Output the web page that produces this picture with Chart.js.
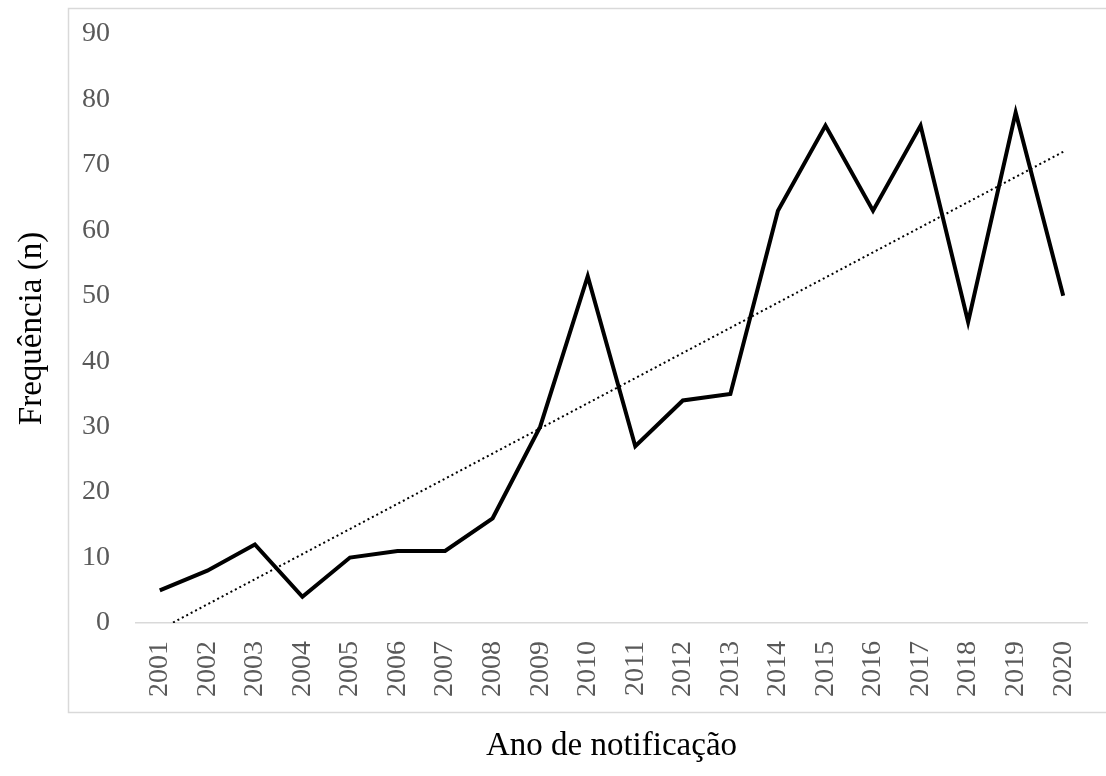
<!DOCTYPE html>
<html lang="pt">
<head>
<meta charset="utf-8">
<title>Frequência por ano de notificação</title>
<script src="https://cdn.jsdelivr.net/npm/chart.js@4/dist/chart.umd.min.js"></script>
<style>
  html, body { margin: 0; padding: 0; background: #fff; }
  #wrap { position: relative; width: 1106px; height: 776px; }
</style>
</head>
<body>
<div id="wrap"><canvas id="chart"></canvas></div>
<script>
const years = ["2001", "2002", "2003", "2004", "2005", "2006", "2007", "2008", "2009", "2010",
  "2011", "2012", "2013", "2014", "2015", "2016", "2017", "2018", "2019", "2020"];
const frequency = [5, 8, 12, 4, 10, 11, 11, 16, 30, 53, 27, 34, 35, 63, 76, 63, 76, 46, 78, 50];
// linear trend line, endpoints
const trendYears = ["2001", "2020"];
const trendValues = [-1, 72];
const yTicks = { min: 0, max: 90, step: 10 };

const serif = "'Liberation Serif', 'DejaVu Serif', serif";
const tickGray = "#595959";
const frameGray = "#d9d9d9";

// light frame around the plot, like the spreadsheet chart border
const framePlugin = {
  id: "frame",
  beforeDraw(chart) {
    const ctx = chart.ctx;
    ctx.save();
    ctx.strokeStyle = frameGray;
    ctx.lineWidth = 1.5;
    ctx.strokeRect(68.5, 8.5, 1100, 704);
    ctx.restore();
  },
};

new Chart(document.getElementById("chart"), {
  type: "line",
  data: {
    labels: years,
    datasets: [
      {
        label: "Frequência",
        data: frequency,
        borderColor: "#000",
        borderWidth: 4,
        pointRadius: 0,
        tension: 0,
        borderJoinStyle: "miter",
      },
      {
        label: "Tendência",
        data: trendYears.map((year, i) => ({ x: year, y: trendValues[i] })),
        borderColor: "#000",
        borderWidth: 2,
        borderDash: [2, 3],
        pointRadius: 0,
        tension: 0,
      },
    ],
  },
  options: {
    responsive: true,
    maintainAspectRatio: false,
    animation: false,
    layout: {
      padding: { left: 0, top: 34, right: 19, bottom: 0 },
    },
    plugins: {
      legend: { display: false },
      tooltip: { enabled: false },
    },
    scales: {
      x: {
        type: "category",
        offset: true,
        grid: { drawOnChartArea: false, drawTicks: false },
        border: { display: true, color: frameGray, width: 1.5 },
        ticks: {
          color: tickGray,
          font: { family: serif, size: 28 },
          minRotation: 90,
          maxRotation: 90,
          autoSkip: false,
          padding: 18,
        },
        title: {
          display: true,
          text: "Ano de notificação",
          color: "#000",
          font: { family: serif, size: 33 },
          padding: { top: 0, bottom: 10 },
        },
        afterFit(scale) {
          scale.height = 153;
          scale.paddingLeft = 0;
          scale.paddingRight = 0;
        },
      },
      y: {
        min: yTicks.min,
        max: yTicks.max,
        grid: { display: false, drawTicks: false },
        border: { display: false },
        ticks: {
          stepSize: yTicks.step,
          color: tickGray,
          font: { family: serif, size: 28 },
          padding: 26,
        },
        title: {
          display: true,
          text: "Frequência (n)",
          color: "#000",
          font: { family: serif, size: 33 },
          padding: { top: 13, bottom: 0 },
        },
        afterFit(scale) {
          scale.width = 136;
          scale.paddingTop = 0;
          scale.paddingBottom = 0;
        },
      },
    },
  },
  plugins: [framePlugin],
});
</script>
</body>
</html>
